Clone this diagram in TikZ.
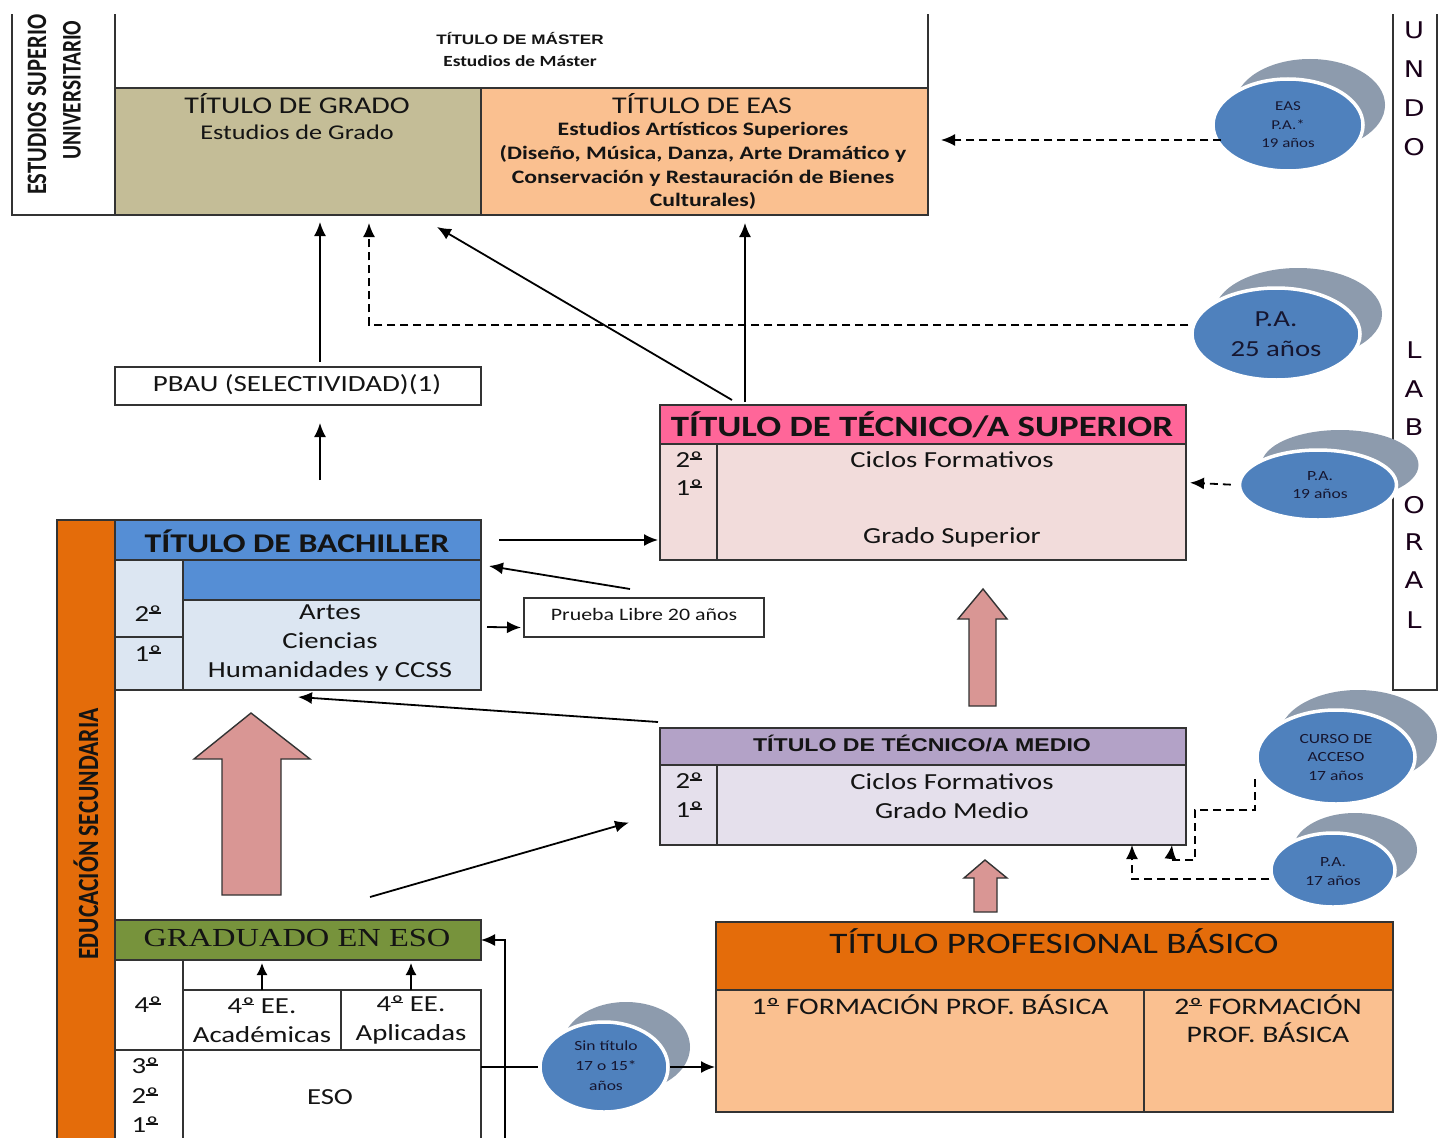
\documentclass[tikz,border=0pt]{standalone}
\usepackage{fontspec}
\setmainfont{Carlito}
\newfontfamily\ars{Liberation Sans}
\newfontfamily\tms{Liberation Serif}
\newfontfamily\dvs{DejaVu Sans}
\usetikzlibrary{arrows.meta,shadows,shapes.geometric}
\newcommand\fz[2]{\fontsize{#1}{#2}\selectfont}
\newcommand\oo{\mbox{\setbox0\hbox{º}\rlap{º}\raisebox{0.36em}{\rule{\wd0}{0.055em}}}}
\definecolor{lc}{HTML}{333333}
\definecolor{cgrado}{HTML}{C4BD97}
\definecolor{cpeach}{HTML}{FAC090}
\definecolor{cblue}{HTML}{558ED5}
\definecolor{clblue}{HTML}{DCE6F2}
\definecolor{cpink}{HTML}{FF6699}
\definecolor{clpink}{HTML}{F2DCDB}
\definecolor{cpurp}{HTML}{B3A2C7}
\definecolor{clpurp}{HTML}{E5E0EC}
\definecolor{cgreen}{HTML}{77933C}
\definecolor{corange}{HTML}{E46C0A}
\definecolor{carrow}{HTML}{D99694}
\definecolor{cell}{HTML}{4F81BD}
\definecolor{cshd}{HTML}{8D9BAD}
\definecolor{ctxt}{HTML}{141414}
\definecolor{cetxt}{HTML}{161630}
\tikzset{
  box/.style={draw=lc, line width=1.6pt, anchor=north west, inner sep=0pt, outer sep=0pt},
  ln/.style={draw=lc, line width=1.6pt},
  arr/.style={draw=black, line width=1.8pt, -{Latex[length=14pt,width=12pt]}},
  sarr/.style={draw=black, line width=1.6pt, -{Latex[length=12pt,width=11pt]}},
  darr/.style={arr, dash pattern=on 8pt off 5pt},
  fat/.style={fill=carrow, draw=lc, line width=1.4pt, line join=miter},
  t/.style={inner sep=0pt, xscale=1.25, text=ctxt, align=center},
  rt/.style={inner sep=0pt, rotate=90, yscale=1.25, text=ctxt},
  et/.style={inner sep=0pt, xscale=1.25, text=cetxt, align=center},
  ell/.style={ellipse, fill=cell, draw=white, line width=3.5pt, inner sep=0pt,
    general shadow={fill=cshd, shadow xshift=22pt, shadow yshift=20pt}},
}
\begin{document}
\begin{tikzpicture}[x=1pt,y=-1pt]
\useasboundingbox[fill=white] (0,0) rectangle (1439,1137);
\begin{scope}
\clip (0,15) rectangle (1439,1137);
% ---------- top block
\node[box, minimum width=103pt, minimum height=215pt] (esu) at (12,0) {};
\node[box, minimum width=813pt, minimum height=88pt] (master) at (115,0) {};
\node[box, fill=cgrado, minimum width=366pt, minimum height=127pt] (grado) at (115,88) {};
\node[box, fill=cpeach, minimum width=447pt, minimum height=127pt] (eas) at (481,88) {};
\node[box, minimum width=44pt, minimum height=690pt] (mundo) at (1393,0) {};
% ---------- PBAU
\node[box, minimum width=366pt, minimum height=38pt] (pbau) at (115,367) {};
% ---------- Bachiller
\node[box, fill=clblue, minimum width=366pt, minimum height=170pt] (bach) at (115,520) {};
\node[box, fill=cblue, minimum width=366pt, minimum height=40pt] (bachh) at (115,520) {};
\node[box, fill=cblue, minimum width=298pt, minimum height=40pt] (bband) at (183,560) {};
\draw[ln] (bband.south west) -- (bach.south west -| bband.south west);
\draw[ln] (115,637) -- (183,637);
% ---------- Prueba libre
\node[box, minimum width=240pt, minimum height=39pt] (prueba) at (524,598) {};
% ---------- Tecnico superior
\node[box, fill=clpink, minimum width=526pt, minimum height=155pt] (tsup) at (660,405) {};
\node[box, fill=cpink, minimum width=526pt, minimum height=39pt] (tsuph) at (660,405) {};
\draw[ln] (717,444) -- (717,560);
% ---------- Tecnico medio
\node[box, fill=clpurp, minimum width=526pt, minimum height=117pt] (tmed) at (660,728) {};
\node[box, fill=cpurp, minimum width=526pt, minimum height=37pt] (tmedh) at (660,728) {};
\draw[ln] (717,765) -- (717,845);
% ---------- Educacion secundaria bar
\node[box, fill=corange, minimum width=58pt, minimum height=640pt] (sec) at (57,520) {};
% ---------- ESO
\node[box, fill=cgreen, minimum width=366pt, minimum height=40pt] (esoh) at (115,920) {};
\node[box, minimum width=158pt, minimum height=60pt] (acad) at (183,990) {};
\node[box, minimum width=140pt, minimum height=60pt] (apli) at (341,990) {};
\node[box, minimum width=366pt, minimum height=100pt] (esotab) at (115,1050) {};
\draw[ln] (183,960) -- (183,1150);
% ---------- Titulo profesional basico
\node[box, fill=cpeach, minimum width=677pt, minimum height=190pt] (tpb) at (716,922) {};
\node[box, fill=corange, minimum width=677pt, minimum height=68pt] (tpbh) at (716,922) {};
\draw[ln] (1144,990) -- (1144,1112);
% ---------- fat arrows
\draw[fat] (251,713) -- (310,759) -- (281,759) -- (281,895) -- (222,895) -- (222,759) -- (194,759) -- cycle;
\draw[fat] (983,589) -- (1007,619) -- (996,619) -- (996,706) -- (969,706) -- (969,619) -- (958,619) -- cycle;
\draw[fat] (985,860) -- (1007,878) -- (997,878) -- (997,912) -- (974,912) -- (974,878) -- (964,878) -- cycle;
% ---------- ellipses
\node[ell, minimum width=150pt, minimum height=92pt] (e1) at (1288,125) {};
\node[ell, minimum width=168pt, minimum height=92pt] (e2) at (1276,334) {};
\node[ell, minimum width=157pt, minimum height=70pt] (e3) at (1318,485) {};
\node[ell, minimum width=158pt, minimum height=94pt] (e4) at (1336,757) {};
\node[ell, minimum width=124pt, minimum height=74pt] (e5) at (1333,870) {};
\node[ell, minimum width=128pt, minimum height=90pt] (e6) at (604,1067) {};
% ---------- connectors
\path ([yshift=-15pt,xshift=10pt]e1.west) coordinate (s1);
\draw[darr, shorten >=13pt] (s1) -- (s1 -| eas.east);
\draw[darr, shorten >=8pt] ([yshift=9pt,xshift=-2pt]e2.west) -| ([xshift=71pt]grado.south);
\draw[darr, shorten >=4pt, shorten <=7pt] (e3.west) -- (tsup.east);
\draw[darr, shorten <=1pt] ([yshift=-21pt]e4.west) -- ++(0,32) -- ++(-60,0) -- ++(0,50) -- ++(-25,0) -- ([xshift=-14pt]tmed.south east);
\draw[darr] ([yshift=-9pt]e5.west) -| ([xshift=-54pt]tmed.south east);
\draw[arr, shorten <=18pt, shorten >=2pt] (bachh.east) -- (bachh.east -| tsup.west);
\draw[arr] ([xshift=-14pt,yshift=9pt]prueba.north) -- ([xshift=8pt,yshift=-6pt]bachh.south east);
\draw[arr] ([xshift=6pt,yshift=-22pt]bach.east) -- ([xshift=-3pt,yshift=-10pt]prueba.west);
\draw[arr] ([yshift=6pt,xshift=-2pt]tmed.north west) -- ([yshift=-7pt]bach.south);
\draw[arr] ([xshift=72pt,yshift=23pt]esoh.north) -- ([xshift=-31pt,yshift=-36pt]tmed.west);
\draw[arr] ([xshift=22pt,yshift=5pt]pbau.north) -- ([xshift=22pt,yshift=-7pt]grado.south);
\draw[arr] ([xshift=22pt,yshift=40pt]bachh.north) -- ([xshift=22pt,yshift=-18pt]pbau.south);
\draw[arr] ([xshift=72pt,yshift=5pt]tsup.north west) -- ([xshift=-44pt,yshift=-12pt]grado.south east);
\path ([xshift=85pt,yshift=3pt]tsup.north west) coordinate (s14);
\draw[arr, shorten >=8pt] (s14) -- (s14 |- eas.south);
\draw[draw=black, line width=1.6pt] (e6.west -| esotab.east) -- (e6.west);
\draw[arr, shorten >=1pt] (e6.east) -- (e6.east -| tpb.west);
\coordinate (esobot) at (505,1150);
\draw[arr] (esobot) |- (esoh.east);
\draw[sarr] (acad.north) -- ([yshift=-3pt]esoh.south -| acad.north);
\draw[sarr] (apli.north) -- ([yshift=-3pt]esoh.south -| apli.north);
% ---------- texts
\node[t, font=\ars\bfseries\fz{13.7}{15}] (tmaster) at (520,38) {TÍTULO DE MÁSTER};
\node[t, font=\bfseries\fz{15.5}{17}] (smaster) at (520,61) {Estudios de Máster};
\node[t, font=\fz{24}{26}] (tgrado) at (297,104) {TÍTULO DE GRADO};
\node[t, font=\fz{21}{23}] (sgrado) at (297,132) {Estudios de Grado};
\node[t, font=\fz{24}{26}] (teas) at (702,104) {TÍTULO DE EAS};
\node[t, font=\bfseries\fz{19}{23.7}] (seas) at (703,166) {Estudios Artísticos Superiores\\(Diseño, Música, Danza, Arte Dramático y\\Conservación y Restauración de Bienes\\Culturales)};
\node[rt, font=\bfseries\fz{22.5}{24}, anchor=west] (esu1) at (37,195) {ESTUDIOS SUPERIOR};
\node[rt, font=\bfseries\fz{21.5}{23}, anchor=west] (esu2) at (72,160) {UNIVERSITARIO};
\foreach \l/\y in {U/30,N/69,D/108,O/147,L/350,A/389,B/427,O/505,R/542,A/580,L/620}
  \node[t, xscale=0.95, font=\dvs\fz{23}{24}, text=black!80!violet] (m\y) at (1414,\y) {\l};
\node[t, font=\fz{23.2}{25}] (tpbau) at (297,385) {PBAU (SELECTIVIDAD)(1)};
\node[t, font=\bfseries\fz{27}{30}] (tbach) at (297,541) {TÍTULO DE BACHILLER};
\node[t, font=\fz{23}{25}] (b2) at (148,614) {2\oo};
\node[t, font=\fz{23}{25}] (b1) at (148,654) {1\oo};
\node[t, font=\fz{23}{29}] (bmod) at (330,643) {Artes\\Ciencias\\Humanidades y CCSS};
\node[t, font=\fz{17.5}{19}] (tprueba) at (644,614) {Prueba Libre 20 años};
\node[t, font=\bfseries\fz{29.5}{31}] (ttsup) at (922,425) {TÍTULO DE TÉCNICO/A SUPERIOR};
\node[t, font=\fz{23}{25}] (s2) at (689,460) {2\oo};
\node[t, font=\fz{23}{25}] (s1t) at (689,488) {1\oo};
\node[t, font=\fz{23}{25}] (sc) at (952,460) {Ciclos Formativos};
\node[t, font=\fz{23}{25}] (sg) at (952,537) {Grado Superior};
\node[t, font=\ars\bfseries\fz{18.5}{20}] (ttmed) at (922,743) {TÍTULO DE TÉCNICO/A MEDIO};
\node[t, font=\fz{23}{25}] (m2t) at (689,781) {2\oo};
\node[t, font=\fz{23}{25}] (m1t) at (689,810) {1\oo};
\node[t, font=\fz{23}{28.5}] (mcg) at (952,796) {Ciclos Formativos\\Grado Medio};
\node[t, font=\tms\fz{26}{28}] (teso) at (297,938) {GRADUADO EN ESO};
\node[t, font=\fz{23}{25}] (e4t) at (148,1005) {4\oo};
\node[t, font=\fz{23}{29}] (tacad) at (acad) {4\oo{} EE.\\Académicas};
\node[t, font=\fz{23}{29}] (tapli) at (apli) {4\oo{} EE.\\Aplicadas};
\node[t, font=\fz{23}{25}] (e3t) at (145,1066) {3\oo};
\node[t, font=\fz{23}{25}] (e2t) at (145,1096) {2\oo};
\node[t, font=\fz{23}{25}] (e1t) at (145,1125) {1\oo};
\node[t, font=\fz{23}{25}] (tesob) at (330,1097) {ESO};
\node[rt, font=\bfseries\fz{23.5}{25}] (tsec) at (86,834) {EDUCACIÓN SECUNDARIA};
\node[t, font=\fz{29.8}{31}] (ttpb) at (1054,941) {TÍTULO PROFESIONAL BÁSICO};
\node[t, font=\fz{23.7}{25}] (tfp1) at (930,1005) {1\oo{} FORMACIÓN PROF. BÁSICA};
\node[t, font=\fz{23.7}{28}] (tfp2) at (1268,1019) {2\oo{} FORMACIÓN\\PROF. BÁSICA};
% ellipse texts
\node[et, font=\fz{13.5}{18.5}] at (e1) {EAS\\P.A.*\\19 años};
\node[et, font=\fz{23}{30}] at (e2) {P.A.\\25 años};
\node[et, font=\fz{14}{18}] at ([xshift=2pt]e3) {P.A.\\19 años};
\node[et, font=\fz{14}{18.5}] at (e4) {CURSO DE\\ACCESO\\17 años};
\node[et, font=\fz{14}{19}] at ([yshift=-2pt]e5) {P.A.\\17 años};
\node[et, font=\fz{14}{20}] at ([xshift=2pt,yshift=1pt]e6) {Sin título\\17 o 15*\\años};
\end{scope}
\end{tikzpicture}
\end{document}
